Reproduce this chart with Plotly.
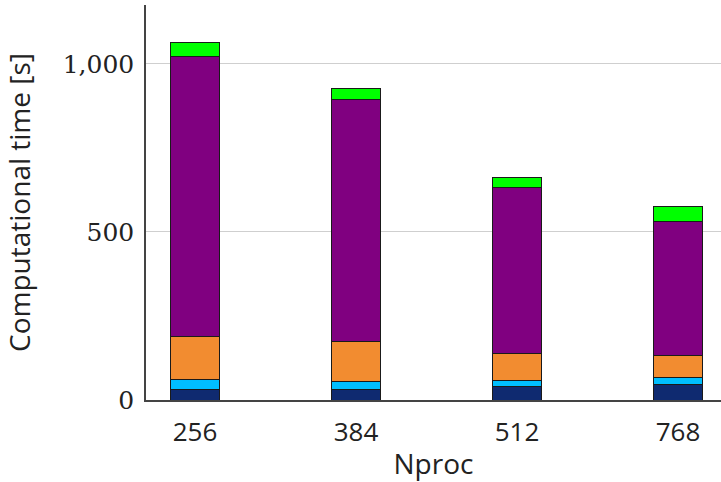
import plotly.graph_objects as go

categories = ["256", "384", "512", "768"]
navy = [31, 31, 40, 45]
cyan = [30, 24, 18, 23]
orange = [127, 120, 80, 65]
purple = [834, 718, 495, 398]
green = [40, 34, 28, 44]

series = [
    ("s1", navy, "#0f2a70"),
    ("s2", cyan, "#00bfff"),
    ("s3", orange, "#f28c30"),
    ("s4", purple, "#800080"),
    ("s5", green, "#00ff00"),
]

fig = go.Figure()
for name, vals, col in series:
    fig.add_trace(go.Bar(
        x=list(range(len(categories))), y=vals, name=name,
        marker=dict(color=col, line=dict(color="#1a1a1a", width=1)),
        width=0.304, showlegend=False,
    ))

fig.update_layout(
    barmode="stack",
    width=721, height=482,
    margin=dict(l=146, r=0, t=5, b=82),
    plot_bgcolor="white", paper_bgcolor="white",
    xaxis=dict(
        tickmode="array", tickvals=list(range(len(categories))), ticktext=categories,
        range=[-0.304, 3.267], automargin=False,
        showline=True, linecolor="#444", linewidth=1.5,
        showgrid=False, zeroline=False, ticks="", ticklabelstandoff=8,
        tickfont=dict(family="Open Sans", size=26, color="#222"),
        title=dict(text="Nproc", font=dict(family="Open Sans", size=28, color="#222"), standoff=8),
    ),
    yaxis=dict(
        range=[0, 1175], tickvals=[0, 500, 1000], tickformat=",", automargin=False,
        showline=True, linecolor="#444", linewidth=1.5,
        showgrid=True, gridcolor="#cfcfcf", gridwidth=1, zeroline=False, ticks="", ticklabelstandoff=5,
        tickfont=dict(family="DejaVu Serif", size=25, color="#222"),
        title=dict(text="Computational time [s]", font=dict(family="Open Sans", size=28, color="#222"), standoff=24),
    ),
)

fig.write_html(
    "out.html",
    config={"displayModeBar": False},
    post_script="document.body.style.margin='0';document.body.style.overflow='hidden';",
)
